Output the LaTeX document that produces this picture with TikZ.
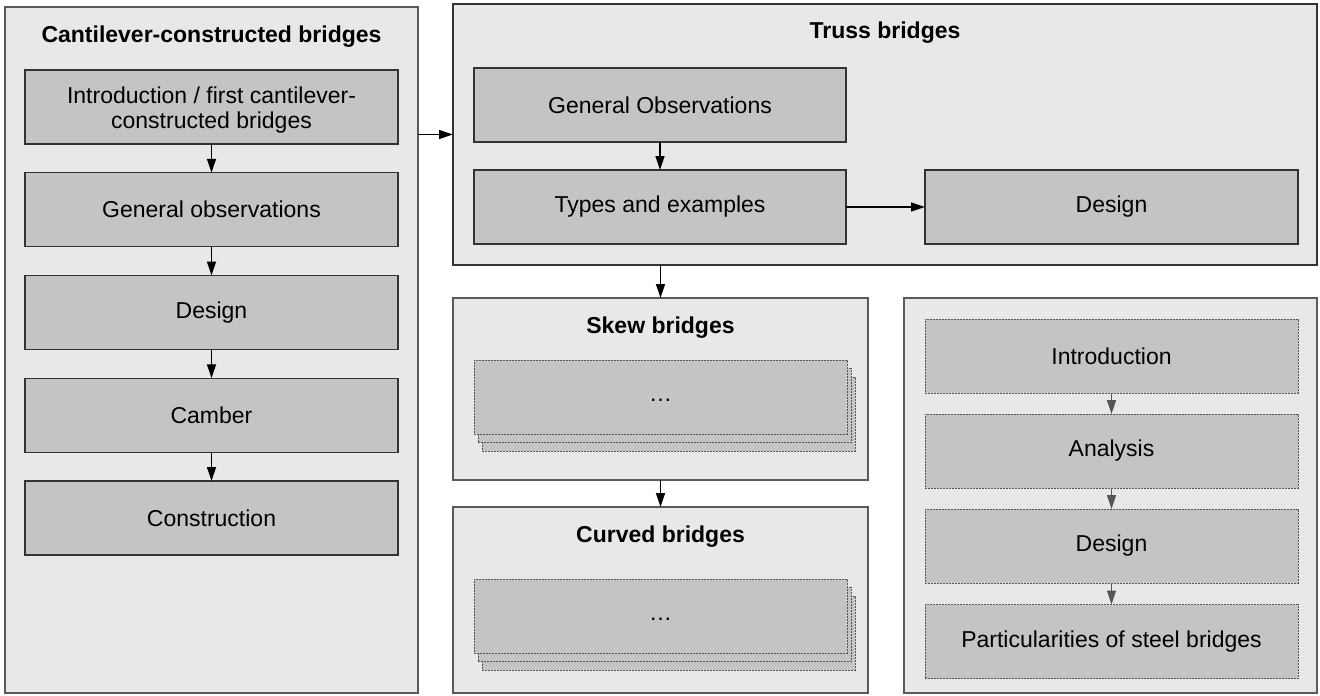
\documentclass[tikz,border=0pt]{standalone}
\usepackage{fontspec}
\setmainfont{Liberation Sans}
\usetikzlibrary{arrows.meta}
\definecolor{contfill}{HTML}{E8E8E8}
\definecolor{boxfill}{HTML}{C4C4C4}
\definecolor{contdraw}{HTML}{5A5A5A}
\definecolor{boxdraw}{HTML}{333333}
\definecolor{dashdraw}{HTML}{555555}
\tikzset{
  cont/.style={draw=contdraw, fill=contfill, line width=1.3pt, inner sep=0pt, outer sep=0pt, anchor=north west},
  inbox/.style={draw=boxdraw, fill=boxfill, line width=1.2pt, inner sep=0pt, outer sep=0pt, anchor=north west,
    minimum width=373pt, minimum height=74pt, align=center, font=\fontsize{23}{24.5}\selectfont},
  dbox/.style={inbox, draw=dashdraw, dash pattern=on 2pt off 1pt, line width=1pt},
  ttl/.style={font=\fontsize{23}{26}\selectfont\bfseries, inner sep=0pt},
  arr/.style={-{Triangle[length=14pt,width=9pt]}, line width=1.3pt, black},
  garr/.style={arr, dashdraw},
}
\begin{document}
\begin{tikzpicture}[x=1pt,y=-1pt]
\useasboundingbox (0,0) rectangle (1320,696);
% left container
\node[cont, minimum width=413pt, minimum height=686pt] (L) at (5,7) {};
\node[ttl] (LT) at (211.5,37) {Cantilever-constructed bridges};
\node[inbox] (l1) at (25,70) {\raisebox{-3pt}[\height][\depth]{\parbox{373pt}{\centering Introduction / first cantilever-\\constructed bridges}}};
\node[inbox] (l2) at (25,172.75) {General observations};
\node[inbox] (l3) at (25,275.5) {Design};
\node[inbox] (l4) at (25,378.25) {Camber};
\node[inbox] (l5) at (25,481) {Construction};
\draw[arr] (l1) -- (l2);
\draw[arr] (l2) -- (l3);
\draw[arr] (l3) -- (l4);
\draw[arr] (l4) -- (l5);
% truss container
\node[cont, draw=boxdraw, minimum width=864pt, minimum height=261pt] (T) at (453,4) {};
\node[ttl] (TT) at (885,33) {Truss bridges};
\node[inbox, minimum width=372pt] (t1) at (474,68) {General Observations};
\node[inbox, minimum width=372pt] (t2) at (474,170) {Types and examples};
\node[inbox] (t3) at (925,170) {Design};
\draw[arr] (t1) -- (t2);
\draw[arr] (t2) -- (t3);
\draw[arr] (L.east |- T.west) -- (T.west);
% skew container
\node[cont, minimum width=415pt, minimum height=182pt] (S) at (453,298) {};
\node[ttl] (ST) at (660.5,328) {Skew bridges};
\node[dbox] (s3) at (482,377) {};
\node[dbox] (s2) at (478,368.5) {};
\node[dbox] (s1) at (474,360) {\strut…};
\draw[arr] (T.south -| S.north) -- (S.north);
% curved container
\node[cont, minimum width=415pt, minimum height=186pt] (C) at (453,507) {};
\node[ttl] (CT) at (660.5,537) {Curved bridges};
\node[dbox] (c3) at (482,596) {};
\node[dbox] (c2) at (478,587.5) {};
\node[dbox] (c1) at (474,579) {\strut…};
\draw[arr] (S.south) -- (C.north);
% right container
\node[cont, minimum width=413pt, minimum height=395pt] (R) at (904,298) {};
\node[dbox] (r1) at (925,319) {Introduction};
\node[dbox] (r2) at (925,414) {Analysis};
\node[dbox] (r3) at (925,509) {Design};
\node[dbox] (r4) at (925,604.5) {Particularities of steel bridges};
\draw[garr] (r1) -- (r2);
\draw[garr] (r2) -- (r3);
\draw[garr] (r3) -- (r4);
\end{tikzpicture}
\end{document}
